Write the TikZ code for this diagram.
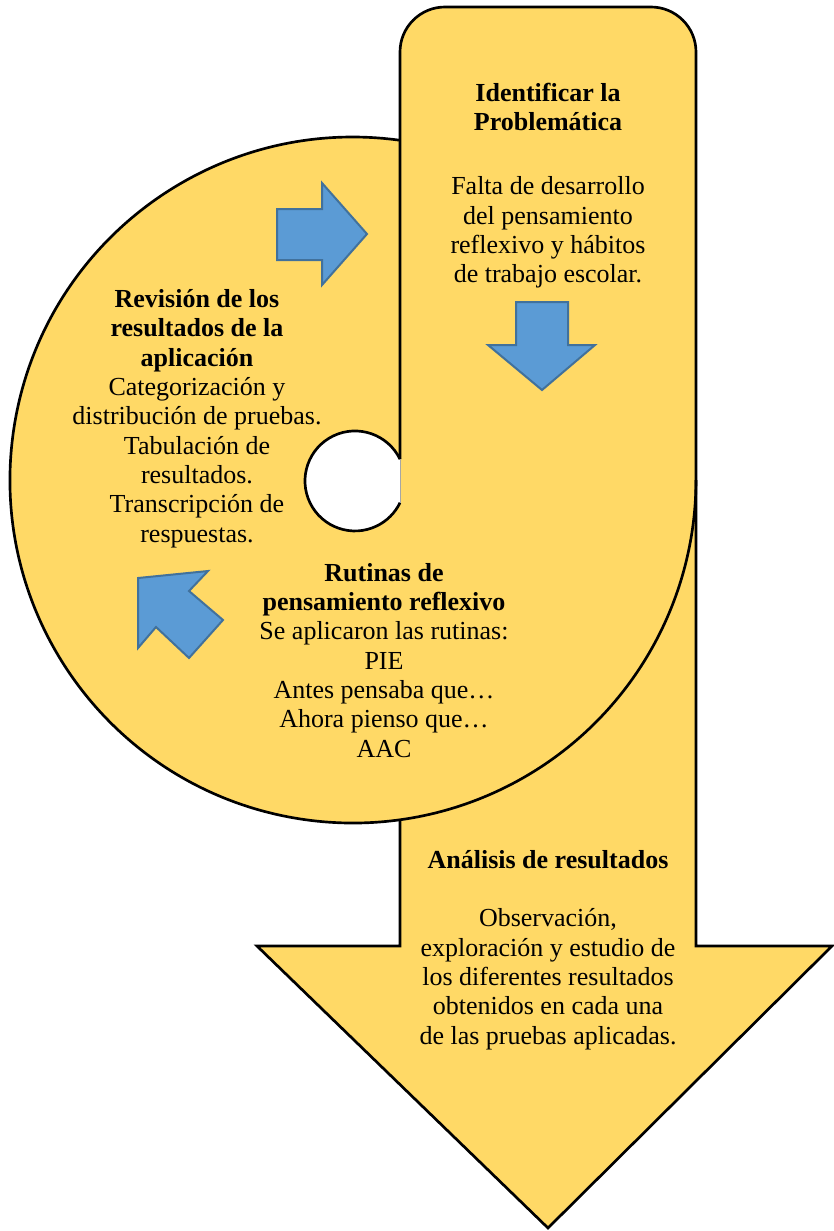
\documentclass[tikz,border=0pt]{standalone}
\usepackage{fontspec}
\setmainfont{Liberation Serif}
\definecolor{gold}{HTML}{FFD966}
\definecolor{bfill}{HTML}{5B9BD5}
\definecolor{bline}{HTML}{41719C}
\begin{document}
\begin{tikzpicture}[x=0.75pt,y=-0.75pt,
  outl/.style={line width=2pt, draw=black},
  barrow/.style={fill=bfill, draw=bline, line width=1.5pt, line join=miter},
  txt/.style={align=center, anchor=north, inner sep=0pt, font=\fontsize{19.5pt}{22pt}\selectfont}]
\useasboundingbox (0,0) rectangle (833,1231);
% yellow fills
\fill[gold] (400,946) -- (400,500) {[rounded corners=33.75pt] -- (400,7) -- (696,7) -- (696,500)} -- (696,946) -- (832,946) -- (548,1228) -- (257,946) -- cycle;
\fill[gold] (353,480) circle[radius=343];
% outlines
\draw[outl] (400,819.6) -- (400,946) -- (257,946) -- (548,1228) -- (832,946) -- (696,946) -- (696,500) {[rounded corners=33.75pt] -- (696,7) -- (400,7) -- (400,300)} -- (400,459);
\draw[outl] (400.1,140.3) arc[start angle=-82.1, end angle=-360, radius=343];
% hole
\fill[white] (400,459.2) arc[start angle=-25.8, end angle=-334.2, radius=50] -- cycle;
\draw[outl] (400,459.2) arc[start angle=-25.8, end angle=-334.2, radius=50];
\draw[line width=0.4pt, draw=black!35] (400,459.2) -- (400,502.8);
% blue arrows
\draw[barrow] (277,209) -- (322,209) -- (322,183) -- (367,234) -- (322,285) -- (322,260) -- (277,260) -- cycle;
\draw[barrow] (516,302) -- (568,302) -- (568,345) -- (595,345) -- (542,390) -- (488,345) -- (516,345) -- cycle;
\draw[barrow] (138,578) -- (208,571) -- (189,591) -- (223,620) -- (189,658) -- (156,627) -- (138,648) -- cycle;
% texts
\node[txt] (t1) at (548,83) {\textbf{Identificar la}\\\textbf{Problemática}\\[26pt]Falta de desarrollo\\del pensamiento\\reflexivo y hábitos\\de trabajo escolar.};
\node[txt] (t2) at (197,289) {\textbf{Revisión de los}\\\textbf{resultados de la}\\\textbf{aplicación}\\Categorización y\\distribución de pruebas.\\Tabulación de\\resultados.\\Transcripción de\\respuestas.};
\node[txt] (t3) at (384,563) {\textbf{Rutinas de}\\\textbf{pensamiento reflexivo}\\Se aplicaron las rutinas:\\PIE\\Antes pensaba que…\\Ahora pienso que…\\AAC};
\node[txt] (t4) at (548,850) {\textbf{Análisis de resultados}\\[21.75pt]Observación,\\exploración y estudio de\\los diferentes resultados\\obtenidos en cada una\\de las pruebas aplicadas.};
\end{tikzpicture}
\end{document}
